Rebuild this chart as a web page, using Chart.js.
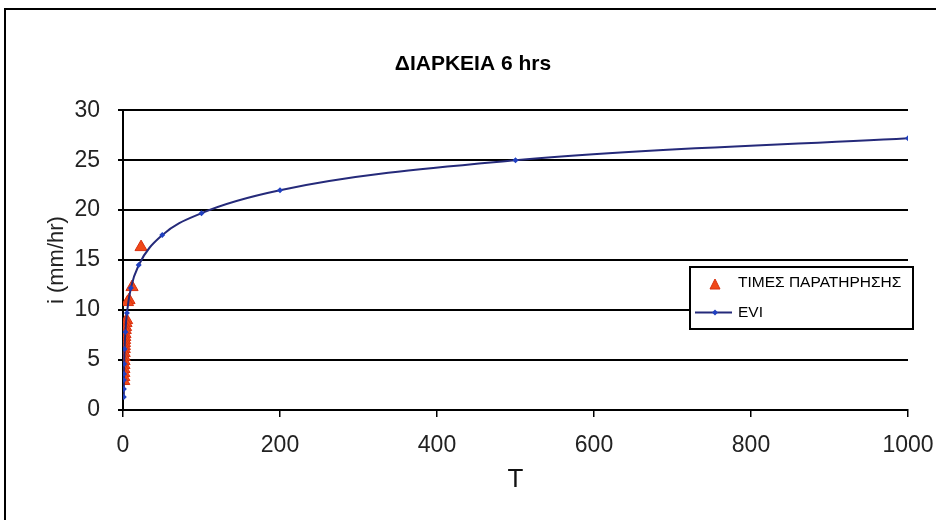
<!DOCTYPE html>
<html>
<head>
<meta charset="utf-8">
<script src="https://cdn.jsdelivr.net/npm/chart.js@4.4.1/dist/chart.umd.min.js"></script>
<style>
  html, body { margin: 0; padding: 0; background: #fff; }
  #wrap { width: 936px; height: 520px; }
</style>
</head>
<body>
<div id="wrap"><canvas id="chart" width="936" height="520"></canvas></div>
<script>
const chartTitle = 'ΔΙΑΡΚΕΙΑ 6 hrs';
const xTitle = 'T';
const yTitle = 'i (mm/hr)';
const obsLabel = 'ΤΙΜΕΣ ΠΑΡΑΤΗΡΗΣΗΣ';
const fitLabel = 'EVI';

// observed values (return period T, intensity i)
const obsT = [23, 11.5, 7.67, 5.75, 4.6, 3.83, 3.29, 2.88, 2.56, 2.3, 2.09, 1.92, 1.77, 1.64, 1.53, 1.44, 1.35, 1.28, 1.21, 1.15, 1.1, 1.05];
const obsI = [16.3, 12.3, 11.0, 10.8, 9.0, 8.7, 8.3, 8.0, 7.6, 7.3, 7.0, 6.7, 6.4, 6.1, 5.7, 5.3, 4.9, 4.5, 4.1, 3.7, 3.3, 2.9];

// EVI curve
const fitT = [1.05, 1.1, 1.2, 1.3, 1.5, 2, 3, 5, 10, 20, 50, 100, 200, 500, 1000];
const fitI = [1.3, 2.1, 3.0, 3.6, 4.6, 6.1, 7.8, 9.7, 12.2, 14.5, 17.5, 19.7, 22.0, 25.0, 27.2];

const xMin = 0, xMax = 1000, xStep = 200;
const yMin = 0, yMax = 30, yStep = 5;

const FONT = "'Liberation Sans', Arial, sans-serif";

const frame = {
  id: 'frame',
  beforeDraw(chart) {
    const ctx = chart.ctx;
    ctx.save();
    ctx.fillStyle = '#fff';
    ctx.fillRect(0, 0, chart.width, chart.height);
    ctx.strokeStyle = '#000';
    ctx.lineWidth = 2;
    ctx.strokeRect(5, 9, 960, 560);
    ctx.restore();
  }
};

// legend box sitting over the plot, like the spreadsheet one
const boxLegend = {
  id: 'boxLegend',
  afterDraw(chart) {
    const ctx = chart.ctx;
    const ds = chart.data.datasets;
    ctx.save();
    ctx.fillStyle = '#fff';
    ctx.fillRect(690, 267, 223, 62);
    ctx.strokeStyle = '#000';
    ctx.lineWidth = 2;
    ctx.strokeRect(690, 267, 223, 62);

    ctx.fillStyle = ds[0].backgroundColor;
    ctx.strokeStyle = ds[0].borderColor;
    ctx.lineWidth = 1;
    ctx.beginPath();
    ctx.moveTo(715, 279); ctx.lineTo(720, 289); ctx.lineTo(710, 289); ctx.closePath();
    ctx.fill(); ctx.stroke();

    ctx.strokeStyle = ds[1].borderColor;
    ctx.lineWidth = 2;
    ctx.beginPath();
    ctx.moveTo(695, 312.5); ctx.lineTo(732, 312.5);
    ctx.stroke();
    ctx.fillStyle = ds[1].pointBackgroundColor;
    ctx.beginPath();
    ctx.moveTo(715, 309.5); ctx.lineTo(718, 312.5); ctx.lineTo(715, 315.5); ctx.lineTo(712, 312.5); ctx.closePath();
    ctx.fill();

    ctx.fillStyle = '#000';
    ctx.font = '15.5px ' + FONT;
    ctx.textBaseline = 'middle';
    ctx.textAlign = 'left';
    ctx.fillText(obsLabel, 738, 283);
    ctx.fillText(fitLabel, 738, 313);
    ctx.restore();
  }
};

new Chart(document.getElementById('chart'), {
  type: 'scatter',
  data: {
    datasets: [
      {
        label: obsLabel,
        data: obsT.map((t, k) => ({ x: t, y: obsI[k] })),
        pointStyle: 'triangle',
        pointRadius: 7,
        backgroundColor: '#f04818',
        borderColor: '#d83010',
        borderWidth: 1,
        showLine: false,
        order: 2
      },
      {
        label: fitLabel,
        data: fitT.map((t, k) => ({ x: t, y: fitI[k] })),
        showLine: true,
        cubicInterpolationMode: 'monotone',
        borderColor: '#252a7a',
        borderWidth: 2,
        pointStyle: 'rectRot',
        pointRadius: 3,
        pointBackgroundColor: '#2040c0',
        pointBorderColor: '#2040c0',
        pointBorderWidth: 0,
        order: 1
      }
    ]
  },
  options: {
    responsive: false,
    animation: false,
    layout: { padding: { left: 38, right: 28, top: 0, bottom: 0 } },
    plugins: {
      legend: { display: false },
      tooltip: { enabled: false },
      title: {
        display: true,
        text: chartTitle,
        color: '#000',
        font: { family: FONT, size: 21, weight: 'bold' },
        padding: { top: 52, bottom: 33 }
      }
    },
    scales: {
      x: {
        type: 'linear',
        min: xMin, max: xMax,
        ticks: { stepSize: xStep, color: '#222', font: { family: FONT, size: 23 }, padding: 15, maxRotation: 0,
                 callback: v => String(v) },
        grid: { drawOnChartArea: false, drawTicks: true, tickLength: 7, color: '#000', lineWidth: 1.5 },
        border: { color: '#000', width: 2 },
        title: { display: true, text: xTitle, color: '#111', font: { family: FONT, size: 26 }, padding: { top: 0, bottom: 25 } },
        afterFit: s => { s.height = 110; s.paddingLeft = 0; s.paddingRight = 0; }
      },
      y: {
        min: yMin, max: yMax,
        ticks: { stepSize: yStep, color: '#222', font: { family: FONT, size: 23 }, padding: 18 },
        grid: { color: '#000', lineWidth: 2, tickLength: 5 },
        border: { color: '#000', width: 2 },
        title: { display: true, text: yTitle, color: '#222', font: { family: FONT, size: 22 }, padding: { top: 6, bottom: 0 } },
        afterFit: s => { s.width = 85; s.paddingTop = 0; s.paddingBottom = 0; }
      }
    }
  },
  plugins: [frame, boxLegend]
});
</script>
</body>
</html>
